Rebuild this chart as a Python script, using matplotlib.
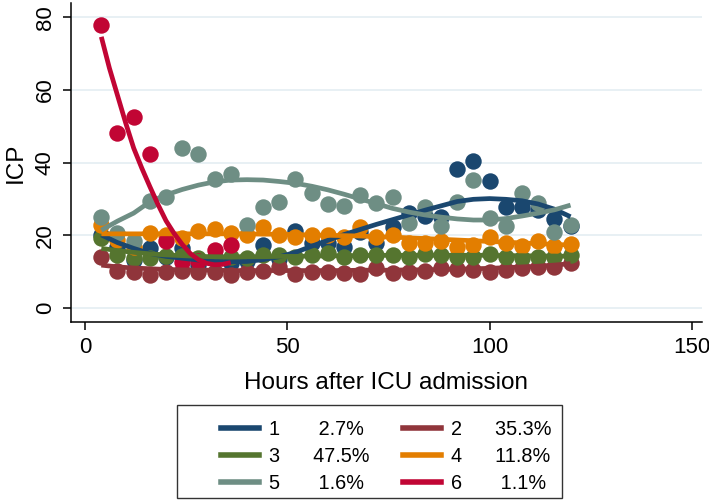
import matplotlib.pyplot as plt
from matplotlib import font_manager
from matplotlib.lines import Line2D
from matplotlib.patches import Rectangle

plt.rcParams['font.family'] = ['Liberation Sans', 'DejaVu Sans']

# axis text in the reference is a narrow sans; use it if installed
names = {f.name for f in font_manager.fontManager.ttflist}
if 'Liberation Sans Narrow' in names:
    axis_font = ['Liberation Sans Narrow', 'Liberation Sans']
    tick_size, label_size = 20.5, 20.5
else:
    axis_font = ['Liberation Sans', 'DejaVu Sans']
    tick_size, label_size = 16, 17.5

hours = [4, 8, 12, 16, 20, 24, 28, 32, 36, 40, 44, 48, 52, 56, 60,
         64, 68, 72, 76, 80, 84, 88, 92, 96, 100, 104, 108, 112, 116, 120]

# observed means per trajectory group
obs1 = [20.1, 16.8, 13.2, 16.4, 14.0, 16.4, 11.8, 14.0, 12.3, 13.0, 17.3, 13.5, 21.3, 18.0, 17.8,
        16.9, 21.0, 17.8, 22.4, 26.0, 25.3, 25.1, 38.2, 40.5, 34.9, 27.7, 27.9, 27.0, 24.5, 22.5]
obs2 = [13.9, 10.3, 10.0, 9.1, 10.0, 10.3, 10.0, 10.0, 9.1, 10.0, 10.3, 11.4, 9.4, 10.0, 10.0,
        9.6, 9.4, 10.9, 9.6, 10.0, 10.3, 10.9, 10.6, 10.4, 10.0, 10.4, 10.9, 11.2, 11.2, 12.3]
obs3 = [19.2, 14.6, 13.7, 13.7, 14.3, 14.3, 13.7, 13.7, 14.0, 13.7, 14.6, 14.6, 14.1, 14.6, 15.2,
        14.1, 14.6, 14.6, 14.6, 14.1, 14.8, 14.6, 14.1, 14.1, 14.8, 14.1, 13.7, 13.9, 14.1, 14.6]
obs4 = [22.8, 18.7, 16.9, 20.5, 20.1, 19.2, 21.3, 21.6, 20.7, 20.2, 22.2, 20.1, 19.6, 20.1, 20.1,
        19.6, 22.2, 19.6, 20.1, 18.0, 17.8, 18.5, 16.9, 17.3, 19.6, 17.8, 17.1, 18.5, 17.1, 17.6]
obs5 = [25.0, 20.6, 18.5, 29.4, 30.6, 43.9, 42.4, 35.5, 36.8, 22.8, 27.9, 29.2, 35.4, 31.7, 28.6,
        28.0, 31.1, 28.8, 30.6, 23.5, 27.7, 22.5, 29.2, 35.2, 24.7, 22.5, 31.7, 28.8, 21.0, 22.8]
hours6 = [4, 8, 12, 16, 20, 24, 28, 32, 36]
obs6 = [77.8, 48.2, 52.6, 42.3, 18.5, 12.7, 12.9, 16.0, 17.3]

# predicted trajectories
fit1 = [20.1, 18.0, 16.4, 15.0, 14.2, 13.7, 13.2, 12.8, 12.7, 12.8, 13.3, 14.1, 15.3, 17.0, 18.6,
        20.2, 21.6, 23.0, 24.3, 25.6, 26.9, 28.1, 29.3, 29.9, 30.1, 29.9, 29.5, 28.6, 27.2, 25.1]
fit2 = [11.8, 11.3, 11.0, 10.8, 10.6, 10.5, 10.4, 10.4, 10.3, 10.3, 10.3, 10.3, 10.3, 10.3, 10.3,
        10.3, 10.4, 10.4, 10.4, 10.5, 10.5, 10.6, 10.7, 10.8, 10.9, 11.1, 11.3, 11.5, 11.8, 12.2]
fit3 = [16.4, 15.8, 15.3, 14.9, 14.6, 14.4, 14.2, 14.1, 14.1, 14.1, 14.1, 14.2, 14.2, 14.3, 14.3,
        14.4, 14.4, 14.5, 14.5, 14.5, 14.5, 14.5, 14.5, 14.5, 14.5, 14.4, 14.4, 14.3, 14.3, 14.2]
fit4 = [20.4, 20.4, 20.4, 20.4, 20.4, 20.4, 20.4, 20.4, 20.4, 20.4, 20.3, 20.3, 20.2, 20.1, 20.0,
        19.9, 19.8, 19.6, 19.5, 19.3, 19.1, 18.9, 18.7, 18.5, 18.3, 18.1, 17.9, 17.7, 17.5, 17.3]
fit5 = [21.4, 23.9, 26.1, 29.2, 31.1, 32.6, 33.8, 34.7, 35.2, 35.3, 35.2, 34.8, 34.3, 33.5, 32.5,
        31.3, 30.0, 28.7, 27.4, 26.4, 25.6, 25.0, 24.5, 24.2, 24.2, 24.6, 25.3, 26.1, 27.0, 28.3]
hours6_fit = [4, 6, 8, 10, 12, 14, 16, 18, 20, 22, 24, 26, 28, 30, 32, 34, 36]
fit6 = [74.6, 66.0, 58.5, 51.0, 44.0, 38.5, 33.4, 28.5, 24.0, 20.5, 17.5, 15.0, 13.3, 12.3, 11.9, 12.0, 12.5]

labels = ['1', '2', '3', '4', '5', '6']
shares = ['2.7%', '35.3%', '47.5%', '11.8%', '1.6%', '1.1%']
colors = ['#1a476f', '#90353b', '#55752f', '#e37e00', '#6e8e84', '#c10534']

obs_x = [hours, hours, hours, hours, hours, hours6]
obs_y = [obs1, obs2, obs3, obs4, obs5, obs6]
fit_x = [hours, hours, hours, hours, hours, hours6_fit]
fit_y = [fit1, fit2, fit3, fit4, fit5, fit6]

fig = plt.figure(figsize=(7.09, 5.01), dpi=100)
ax = fig.add_axes([0.1001, 0.3573, 0.890, 0.6367])

for i in range(6):
    ax.scatter(obs_x[i], obs_y[i], s=140, color=colors[i], linewidths=0, zorder=3)
for i in range(6):
    ax.plot(fit_x[i], fit_y[i], color=colors[i], lw=3.4, solid_capstyle='butt', zorder=4)

ax.set_xlim(-3.5, 152.5)
ax.set_ylim(-3.85, 83.9)
ax.set_xticks([0, 50, 100, 150])
ax.set_yticks([0, 20, 40, 60, 80])
ax.grid(axis='y', color='#e4eef2', lw=1.2)
ax.set_axisbelow(True)
for side in ['top', 'right']:
    ax.spines[side].set_visible(False)
for side in ['left', 'bottom']:
    ax.spines[side].set_linewidth(1.1)
ax.tick_params(length=6, width=1.1, pad=5)
for lab in ax.get_xticklabels() + ax.get_yticklabels():
    lab.set_family(axis_font)
    lab.set_fontsize(tick_size)
for lab in ax.get_yticklabels():
    lab.set_rotation(90)
    lab.set_va('center')
ax.set_xlabel('Hours after ICU admission', family=axis_font, fontsize=label_size, labelpad=10)
ax.set_ylabel('ICP', family=axis_font, fontsize=label_size, labelpad=6)

# legend: rows 1-2, 3-4, 5-6, frame drawn separately
def lab_text(num, pct):
    pad = ' ' * (7 if len(pct) == 4 else 6)
    return num + pad + pct

order = [0, 2, 4, 1, 3, 5]
handles = [Line2D([], [], color=colors[i], lw=4) for i in order]
texts = [lab_text(labels[i], shares[i]) for i in order]
leg = fig.legend(handles, texts, ncol=2, loc='upper left',
                 bbox_to_anchor=(221 / 709, 1 - 420 / 501),
                 fontsize=14.3, frameon=False,
                 handlelength=1.9, handletextpad=0.5, labelspacing=0.4,
                 borderpad=0, columnspacing=1.7, borderaxespad=0)
fig.patches.append(Rectangle((177 / 709, 3 / 501), 385 / 709, 93 / 501,
                             transform=fig.transFigure, fill=False,
                             edgecolor='#333333', lw=1.0))

fig.savefig('out.png', dpi=100)
